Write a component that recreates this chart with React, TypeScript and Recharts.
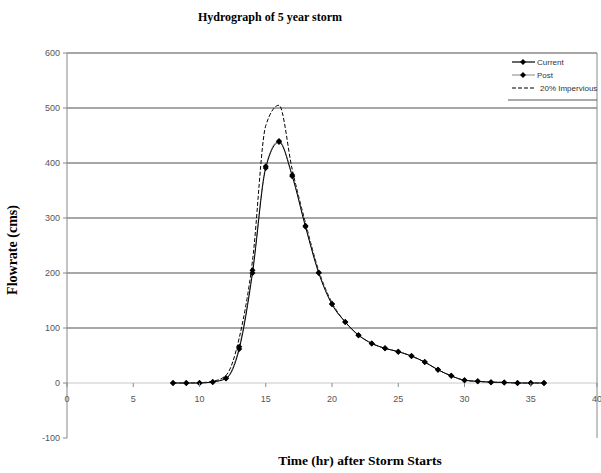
import React from 'react';
import { LineChart, Line, XAxis, YAxis, ReferenceLine } from 'recharts';

const hours = [8, 9, 10, 11, 12, 13, 14, 15, 16, 17, 18, 19, 20, 21, 22, 23, 24, 25, 26, 27, 28, 29, 30, 31, 32, 33, 34, 35, 36];
const current = [0, 0, 0, 2, 8, 62, 200, 391, 438, 376, 284, 200, 143, 111, 87, 72, 63, 57, 49, 38, 24, 13, 5, 3, 1.5, 1, 0, 0, 0];
const post = [0, 0, 0, 2, 9, 66, 205, 394, 440, 378, 286, 201, 144, 111, 87, 72, 63, 57, 49, 38, 24, 13, 5, 3, 1.5, 1, 0, 0, 0];
const impervious = [0, 0, 0.5, 3, 14, 82, 222, 468, 505, 388, 291, 204, 146, 111, 87, 72, 63, 57, 49, 38, 24, 13, 5, 3, 1.5, 1, 0, 0, 0];

const xTicks = [0, 5, 10, 15, 20, 25, 30, 35, 40];
const yTicks = [-100, 0, 100, 200, 300, 400, 500, 600];
const gridValues = [100, 200, 300, 400, 500, 600];
const seriesNames = ['Current', 'Post', '20% Impervious'];

const data = hours.map((h, i) => ({
  hour: h,
  current: current[i],
  post: post[i],
  impervious: impervious[i],
}));

const W = 601;
const H = 473;
const TOP = 53;
const BOTTOM = 35;
// pixels between bottom of plot (-100) and the zero line
const ZERO_OFFSET = ((H - TOP - BOTTOM) * 100) / 700;

const tickFont = 'Liberation Sans Narrow, Liberation Sans, Arial, sans-serif';
const titleFont = 'Liberation Serif, Times New Roman, serif';

const Diamond = (props: any) => {
  const { cx, cy, index } = props;
  if (cx == null || cy == null) return <g key={index} />;
  const r = 3;
  return (
    <polygon
      key={index}
      points={`${cx},${cy - r} ${cx + r},${cy} ${cx},${cy + r} ${cx - r},${cy}`}
      fill="#000"
    />
  );
};

const XTick = (props: any) => {
  const { x, y, payload } = props;
  const y0 = y - ZERO_OFFSET;
  return (
    <g>
      <line x1={x} x2={x} y1={y0} y2={y0 + 4} stroke="#888" />
      <text x={x} y={y0 + 19} textAnchor="middle" fontSize={9} fill="#555" fontFamily={tickFont}>
        {payload.value}
      </text>
    </g>
  );
};

const LegendBox = () => {
  const styles = [
    { color: '#000', dash: undefined as string | undefined, marker: true },
    { color: '#999', dash: undefined as string | undefined, marker: true },
    { color: '#000', dash: '4 2', marker: false },
  ];
  return (
    <g transform="translate(507, 53)">
      {seriesNames.map((label, i) => {
        const it = styles[i];
        const cy = 9 + i * 13;
        return (
          <g key={label}>
            <line x1={5} x2={28} y1={cy} y2={cy} stroke={it.color} strokeWidth={1.2} strokeDasharray={it.dash} />
            {it.marker && <polygon points={`16,${cy - 3} 19,${cy} 16,${cy + 3} 13,${cy}`} fill="#000" />}
            <text x={it.marker ? 30 : 33} y={cy + 3} fontSize={8} fill="#333" fontFamily={tickFont}>
              {label}
            </text>
          </g>
        );
      })}
      <line x1={1} x2={90} y1={47} y2={47} stroke="#555" />
    </g>
  );
};

export default function App() {
  return (
    <div style={{ position: 'absolute', left: 0, top: 0, width: W, height: H, background: '#fff' }}>
      <LineChart width={W} height={H} data={data} margin={{ top: TOP, right: 4, left: 0, bottom: 0 }}>
        <XAxis
          dataKey="hour"
          type="number"
          domain={[0, 40]}
          ticks={xTicks}
          height={BOTTOM}
          axisLine={false}
          tickLine={false}
          tickSize={0}
          tickMargin={0}
          tick={<XTick />}
          interval={0}
        />
        <YAxis
          type="number"
          domain={[-100, 600]}
          ticks={yTicks}
          width={67}
          interval={0}
          axisLine={{ stroke: '#888' }}
          tickLine={{ stroke: '#888' }}
          tickSize={4}
          tickMargin={3}
          tick={{ fontSize: 9, fill: '#555', fontFamily: tickFont }}
        />
        {gridValues.map((v) => (
          <ReferenceLine key={v} y={v} stroke="#8a8a8a" strokeWidth={1.5} />
        ))}
        <ReferenceLine y={0} stroke="#c8c8c8" />
        <ReferenceLine x={40} stroke="#888" />
        <Line
          dataKey="impervious"
          name={seriesNames[2]}
          type="monotone"
          stroke="#000"
          strokeWidth={1}
          strokeDasharray="4 2"
          dot={false}
          isAnimationActive={false}
        />
        <Line dataKey="post" name={seriesNames[1]} type="monotone" stroke="#999" strokeWidth={1} dot={<Diamond />} isAnimationActive={false} />
        <Line dataKey="current" name={seriesNames[0]} type="monotone" stroke="#000" strokeWidth={1} dot={<Diamond />} isAnimationActive={false} />
      </LineChart>
      <svg width={W} height={H} style={{ position: 'absolute', left: 0, top: 0, pointerEvents: 'none' }}>
        <rect x={508} y={54} width={88} height={45} fill="#fff" />
        <LegendBox />
        <text x={270} y={21} textAnchor="middle" fontSize={12} fontWeight="bold" fontFamily={titleFont}>
          Hydrograph of 5 year storm
        </text>
        <text x={360} y={465} textAnchor="middle" fontSize={13.5} fontWeight="bold" fontFamily={titleFont}>
          Time (hr) after Storm Starts
        </text>
        <text
          x={17}
          y={250}
          textAnchor="middle"
          fontSize={14}
          fontWeight="bold"
          fontFamily={titleFont}
          transform="rotate(-90 17 250)"
        >
          Flowrate (cms)
        </text>
      </svg>
    </div>
  );
}
